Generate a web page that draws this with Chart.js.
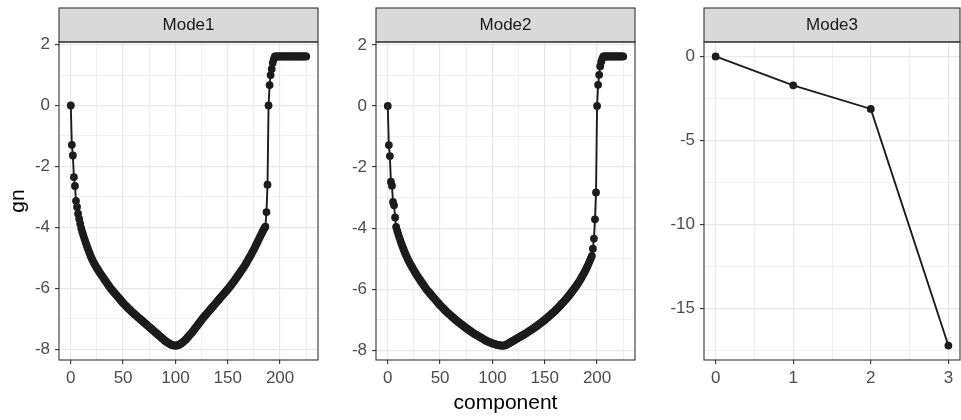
<!DOCTYPE html>
<html>
<head>
<meta charset="utf-8">
<script src="https://cdn.jsdelivr.net/npm/chart.js@4.4.0/dist/chart.umd.min.js"></script>
<style>
  html, body { margin: 0; padding: 0; background: #fff; overflow: hidden; }
  body { width: 961px; height: 420px; position: relative; }
  canvas { position: absolute; top: 0; }
</style>
</head>
<body>
<canvas id="m1" style="left:0px;width:322px;height:420px" width="322" height="420"></canvas>
<canvas id="m2" style="left:322px;width:317px;height:420px" width="317" height="420"></canvas>
<canvas id="m3" style="left:650px;width:314px;height:420px" width="314" height="420"></canvas>
<script>
// gn per component (component = index)
const mode1Gn = [
  0, -1.29, -1.64, -2.35, -2.64, -3.13, -3.33, -3.55, -3.72, -3.88,
  -4.03, -4.15, -4.26, -4.37, -4.47, -4.57, -4.67, -4.76, -4.85, -4.94,
  -5.02, -5.09, -5.16, -5.22, -5.28, -5.34, -5.39, -5.45, -5.50, -5.55,
  -5.60, -5.65, -5.70, -5.75, -5.80, -5.85, -5.90, -5.95, -6.00, -6.04,
  -6.08, -6.12, -6.16, -6.20, -6.24, -6.28, -6.32, -6.36, -6.40, -6.44,
  -6.48, -6.52, -6.55, -6.59, -6.62, -6.66, -6.69, -6.72, -6.76, -6.79,
  -6.82, -6.85, -6.88, -6.91, -6.94, -6.97, -7.00, -7.03, -7.06, -7.09,
  -7.12, -7.15, -7.18, -7.21, -7.24, -7.27, -7.30, -7.33, -7.36, -7.39,
  -7.42, -7.45, -7.48, -7.51, -7.54, -7.57, -7.60, -7.63, -7.66, -7.69,
  -7.72, -7.74, -7.77, -7.79, -7.81, -7.83, -7.85, -7.86, -7.87, -7.88,
  -7.88, -7.88, -7.87, -7.86, -7.84, -7.82, -7.80, -7.77, -7.74, -7.71,
  -7.68, -7.64, -7.60, -7.56, -7.52, -7.48, -7.44, -7.40, -7.35, -7.31,
  -7.26, -7.22, -7.17, -7.13, -7.08, -7.04, -6.99, -6.95, -6.91, -6.87,
  -6.83, -6.79, -6.75, -6.71, -6.67, -6.63, -6.59, -6.55, -6.51, -6.47,
  -6.43, -6.39, -6.35, -6.31, -6.27, -6.23, -6.19, -6.15, -6.11, -6.07,
  -6.03, -5.99, -5.95, -5.90, -5.86, -5.81, -5.77, -5.72, -5.67, -5.62,
  -5.57, -5.52, -5.47, -5.42, -5.37, -5.32, -5.27, -5.21, -5.15, -5.09,
  -5.03, -4.97, -4.91, -4.85, -4.78, -4.72, -4.65, -4.58, -4.51, -4.44,
  -4.37, -4.30, -4.23, -4.16, -4.09, -4.03, -3.98, -3.50, -2.60, 0.00,
  0.67, 1.00, 1.20, 1.40, 1.52, 1.61, 1.61, 1.61, 1.61, 1.61,
  1.61, 1.61, 1.61, 1.61, 1.61, 1.61, 1.61, 1.61, 1.61, 1.61,
  1.61, 1.61, 1.61, 1.61, 1.61, 1.61, 1.61, 1.61, 1.61, 1.61,
  1.61, 1.61, 1.61, 1.61, 1.61, 1.61
];
const mode2Gn = [
  0, -1.28, -1.64, -2.48, -2.61, -3.14, -3.25, -3.65, -3.96, -4.08,
  -4.19, -4.30, -4.40, -4.50, -4.59, -4.68, -4.77, -4.85, -4.93, -5.00,
  -5.07, -5.14, -5.20, -5.26, -5.32, -5.38, -5.44, -5.49, -5.55, -5.60,
  -5.65, -5.70, -5.75, -5.80, -5.85, -5.90, -5.95, -6.00, -6.04, -6.08,
  -6.12, -6.16, -6.20, -6.24, -6.28, -6.32, -6.36, -6.40, -6.44, -6.48,
  -6.52, -6.55, -6.59, -6.62, -6.66, -6.69, -6.73, -6.76, -6.79, -6.82,
  -6.85, -6.88, -6.91, -6.94, -6.97, -7.00, -7.03, -7.06, -7.08, -7.11,
  -7.14, -7.16, -7.19, -7.22, -7.24, -7.27, -7.29, -7.32, -7.34, -7.37,
  -7.39, -7.41, -7.44, -7.46, -7.48, -7.50, -7.52, -7.54, -7.56, -7.58,
  -7.60, -7.62, -7.64, -7.66, -7.68, -7.70, -7.71, -7.73, -7.74, -7.76,
  -7.77, -7.78, -7.79, -7.80, -7.81, -7.82, -7.83, -7.83, -7.84, -7.84,
  -7.84, -7.84, -7.83, -7.82, -7.80, -7.78, -7.76, -7.74, -7.72, -7.70,
  -7.68, -7.66, -7.64, -7.62, -7.60, -7.58, -7.56, -7.54, -7.52, -7.50,
  -7.48, -7.46, -7.44, -7.42, -7.39, -7.37, -7.35, -7.33, -7.30, -7.28,
  -7.26, -7.23, -7.21, -7.18, -7.16, -7.13, -7.11, -7.08, -7.05, -7.03,
  -7.00, -6.97, -6.94, -6.91, -6.88, -6.85, -6.82, -6.79, -6.76, -6.73,
  -6.70, -6.66, -6.63, -6.59, -6.56, -6.52, -6.48, -6.45, -6.41, -6.37,
  -6.33, -6.29, -6.25, -6.21, -6.17, -6.12, -6.08, -6.03, -5.99, -5.94,
  -5.89, -5.84, -5.79, -5.74, -5.68, -5.62, -5.56, -5.50, -5.44, -5.37,
  -5.30, -5.23, -5.15, -5.07, -4.99, -4.91, -4.67, -4.34, -3.71, -2.83,
  0.00, 0.69, 1.02, 1.30, 1.45, 1.55, 1.62, 1.62, 1.62, 1.62,
  1.62, 1.62, 1.62, 1.62, 1.62, 1.62, 1.62, 1.62, 1.62, 1.62,
  1.62, 1.62, 1.62, 1.62, 1.62, 1.62
];
const mode3Gn = [0, -1.72, -3.12, -17.2];

// tick labels (major) and the minor grid in between
const xTicks12 = [0, 50, 100, 150, 200];
const xMinor12 = [25, 75, 125, 175, 225];
const yTicks12 = [2, 0, -2, -4, -6, -8];
const yMinor12 = [1, -1, -3, -5, -7];
const xTicks3 = [0, 1, 2, 3];
const xMinor3 = [0.5, 1.5, 2.5];
const yTicks3 = [0, -5, -10, -15];
const yMinor3 = [-2.5, -7.5, -12.5, -17.5];

Chart.defaults.font.family = '"Liberation Sans", Arial, sans-serif';
Chart.defaults.font.size = 17;
Chart.defaults.color = '#4d4d4d';

// strip on top + panel border, ggplot theme_bw style
const stripPlugin = {
  id: 'strip',
  afterDraw(chart, args, opts) {
    const { ctx, chartArea: a } = chart;
    const w = a.right - a.left;
    ctx.save();
    ctx.fillStyle = '#d9d9d9';
    ctx.fillRect(a.left, 8, w, a.top - 8);
    ctx.strokeStyle = '#333333';
    ctx.lineWidth = 1.1;
    ctx.strokeRect(a.left, 8, w, a.top - 8);
    ctx.strokeRect(a.left, a.top, w, a.bottom - a.top);
    ctx.fillStyle = '#1a1a1a';
    ctx.font = '17px "Liberation Sans", Arial, sans-serif';
    ctx.textAlign = 'center';
    ctx.textBaseline = 'middle';
    ctx.fillText(opts.text, a.left + w / 2, (8 + a.top) / 2 + 0.5);
    ctx.restore();
  }
};

function makeScale(major, minor, min, max, isY, extra) {
  const all = major.concat(minor).sort((a, b) => a - b);
  const isMajor = v => major.includes(v);
  return Object.assign({
    type: 'linear',
    min: min,
    max: max,
    afterBuildTicks: s => { s.ticks = all.map(v => ({ value: v })); },
    afterFit: s => {
      if (isY) s.width = extra.width; else s.height = 60;
      s.paddingTop = 0; s.paddingBottom = 0; s.paddingLeft = 0; s.paddingRight = 0;
    },
    ticks: {
      autoSkip: false,
      maxRotation: 0,
      padding: isY ? 5 : 4,
      color: '#4d4d4d',
      callback: v => isMajor(v) ? String(v) : ''
    },
    grid: {
      color: '#e8e8e8',
      lineWidth: c => isMajor(c.tick.value) ? 1.2 : 0.6,
      tickLength: 4,
      tickWidth: 1.1,
      tickColor: c => isMajor(c.tick.value) ? '#333333' : 'rgba(0,0,0,0)'
    },
    border: { display: false }
  }, extra.scale || {});
}

function drawPanel(id, name, values, xs, ys, opt) {
  const pts = values.map((v, i) => ({ x: i, y: v }));
  const n = values.length - 1;
  const lo = Math.min(...values), hi = Math.max(...values);
  const yPad = (hi - lo) * 0.05;
  new Chart(document.getElementById(id), {
    type: 'line',
    data: {
      datasets: [{
        data: pts,
        borderColor: '#1c1c1c',
        borderWidth: 1.9,
        pointRadius: 3.9,
        pointBackgroundColor: '#1c1c1c',
        pointBorderWidth: 0,
        tension: 0
      }]
    },
    options: {
      responsive: false,
      animation: false,
      layout: { padding: { top: 42, right: opt.padRight, bottom: 0, left: 0 } },
      plugins: { legend: { display: false }, tooltip: { enabled: false }, strip: { text: name } },
      scales: {
        x: makeScale(xs[0], xs[1], -n * 0.05, n * 1.05, false, { scale: opt.xScale }),
        y: makeScale(ys[0], ys[1], lo - yPad, hi + yPad, true, { width: opt.yWidth, scale: opt.yScale })
      }
    },
    plugins: [stripPlugin]
  });
}

drawPanel('m1', 'Mode1', mode1Gn, [xTicks12, xMinor12], [yTicks12, yMinor12], {
  padRight: 2, yWidth: 59,
  yScale: { title: { display: true, text: 'gn', color: '#000', font: { size: 21 }, padding: { top: 6, bottom: 0 } } }
});
drawPanel('m2', 'Mode2', mode2Gn, [xTicks12, xMinor12], [yTicks12, yMinor12], {
  padRight: 2, yWidth: 54,
  xScale: { title: { display: true, text: 'component', color: '#000', font: { size: 21 }, padding: { top: 0, bottom: 4 } } }
});
drawPanel('m3', 'Mode3', mode3Gn, [xTicks3, xMinor3], [yTicks3, yMinor3], {
  padRight: 0, yWidth: 54
});
</script>
</body>
</html>
